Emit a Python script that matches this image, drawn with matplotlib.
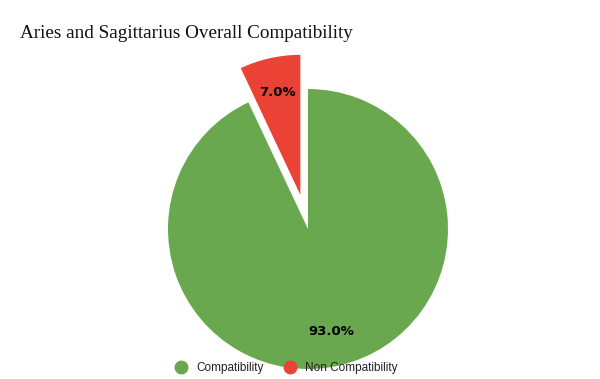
import matplotlib
matplotlib.use("Agg")
import matplotlib.pyplot as plt
from matplotlib.lines import Line2D

labels = ["Compatibility", "Non Compatibility"]
values = [93.0, 7.0]
colors = ["#6aa84f", "#ea4335"]
title = "Aries and Sagittarius Overall Compatibility"

fig = plt.figure(figsize=(6, 3.79), dpi=100)
ax = fig.add_axes([0, 0, 1, 1])

# explode is in data units here (radius is 140 px)
wedges, texts, autotexts = ax.pie(
    values, colors=colors, startangle=90, counterclock=False,
    explode=[0, 35], center=(308, 150), radius=140,
    autopct="%.1f%%", pctdistance=0.75, frame=True,
    textprops=dict(fontsize=9.5, fontweight="bold", color="black"))
ax.set_xlim(0, 600)
ax.set_ylim(0, 379)
ax.axis("off")

fig.text(20, 379 - 33, title, transform=None, fontsize=13.8,
         family="Liberation Serif", va="center", ha="left", color="#111111")

handles = [Line2D([], [], marker="o", linestyle="", markersize=9,
                  markerfacecolor=c, markeredgecolor=c) for c in colors]
fig.legend(handles, labels, loc="center", bbox_to_anchor=(0.472, 1 - 368 / 379),
           ncol=2, frameon=False, handletextpad=0.3, columnspacing=1.2,
           prop=dict(family="Liberation Sans", size=8.5), labelcolor="#222222")

fig.savefig("out.png", dpi=100)
